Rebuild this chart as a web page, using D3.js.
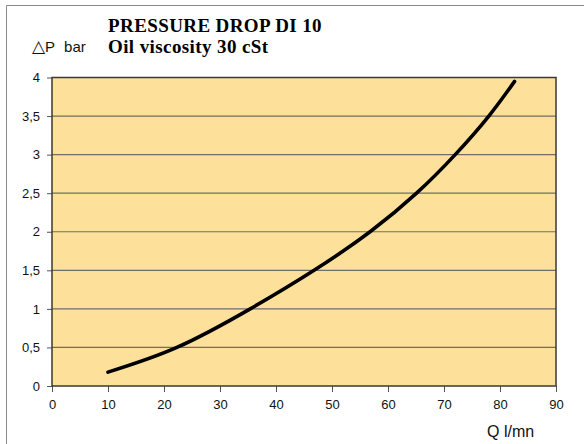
<!DOCTYPE html>
<html>
<head>
<meta charset="utf-8">
<script src="https://cdn.jsdelivr.net/npm/d3@7"></script>
<style>
  html, body { margin: 0; padding: 0; background: #fff; }
  svg { display: block; }
</style>
</head>
<body>
<svg id="chart" width="584" height="444"></svg>
<script>
// Flow rate (l/min) and matching pressure drop (bar) along the DI 10 curve
const flow = [10, 22.3, 35.4, 46.8, 56.8, 65.1, 72, 78, 82.6];
const pressureDrop = [0.18, 0.5, 1, 1.5, 2, 2.5, 3, 3.5, 3.95];

const xTicks = [0, 10, 20, 30, 40, 50, 60, 70, 80, 90];
const yTicks = [0, 0.5, 1, 1.5, 2, 2.5, 3, 3.5, 4];

const title = "PRESSURE DROP DI 10";
const subtitle = "Oil viscosity 30 cSt";
const yTitleSymbol = "\u25B3";
const yTitleVar = "P";
const yTitleUnit = "bar";
const xTitle = "Q l/mn";

const svg = d3.select("#chart");
const plot = { left: 52, top: 77.5, right: 556, bottom: 386 };

const x = d3.scaleLinear().domain([0, 90]).range([plot.left, plot.right]);
const y = d3.scaleLinear().domain([0, 4]).range([plot.bottom, plot.top]);

// outer frame (left and top edges)
svg.append("path")
  .attr("d", "M6.5,444V5.5H584")
  .attr("fill", "none")
  .attr("stroke", "#8a8a8a")
  .attr("stroke-width", 1);

// plot background
svg.append("rect")
  .attr("x", plot.left).attr("y", plot.top)
  .attr("width", plot.right - plot.left)
  .attr("height", plot.bottom - plot.top)
  .attr("fill", "#fde19b");

// horizontal gridlines
svg.append("g")
  .selectAll("line")
  .data(yTicks.filter(d => d > 0 && d < 4))
  .join("line")
  .attr("x1", plot.left).attr("x2", plot.right)
  .attr("y1", d => y(d)).attr("y2", d => y(d))
  .attr("stroke", "#6f6e66")
  .attr("stroke-width", 1.2);

const fmt = d => String(d).replace(".", ",");

// y axis
const yAxis = svg.append("g")
  .attr("transform", `translate(${plot.left},0)`)
  .call(d3.axisLeft(y).tickValues(yTicks).tickFormat(fmt).tickSize(5).tickPadding(7));
yAxis.select(".domain").remove();
yAxis.selectAll(".tick line").attr("stroke", "#555");
yAxis.selectAll("text")
  .attr("font-family", "'Liberation Sans', Arial, sans-serif")
  .attr("font-size", 13)
  .attr("fill", "#111");

// x axis
const xAxis = svg.append("g")
  .attr("transform", `translate(0,${plot.bottom})`)
  .call(d3.axisBottom(x).tickValues(xTicks).tickFormat(d => d).tickSize(6).tickPadding(8));
xAxis.select(".domain").remove();
xAxis.selectAll(".tick line").attr("stroke", "#555");
xAxis.selectAll("text")
  .attr("font-family", "'Liberation Sans', Arial, sans-serif")
  .attr("font-size", 13)
  .attr("fill", "#111");

// plot border
svg.append("rect")
  .attr("x", plot.left).attr("y", plot.top)
  .attr("width", plot.right - plot.left)
  .attr("height", plot.bottom - plot.top)
  .attr("fill", "none")
  .attr("stroke", "#3a3a30")
  .attr("stroke-width", 1.5);

// pressure drop curve
const line = d3.line()
  .x((d, i) => x(flow[i]))
  .y(d => y(d))
  .curve(d3.curveNatural);

svg.append("path")
  .datum(pressureDrop)
  .attr("d", line)
  .attr("fill", "none")
  .attr("stroke", "#000")
  .attr("stroke-width", 3.6)
  .attr("stroke-linecap", "round");

// titles
svg.append("text")
  .attr("x", 108).attr("y", 31.5)
  .attr("font-family", "'Liberation Serif', 'Times New Roman', serif")
  .attr("font-weight", "bold")
  .attr("font-size", 19)
  .attr("letter-spacing", 0.4)
  .attr("fill", "#000")
  .text(title);

svg.append("text")
  .attr("x", 108).attr("y", 52.5)
  .attr("font-family", "'Liberation Serif', 'Times New Roman', serif")
  .attr("font-weight", "bold")
  .attr("font-size", 19)
  .attr("letter-spacing", 0.4)
  .attr("fill", "#000")
  .text(subtitle);

// y axis title: delta symbol, variable and unit
const yLab = svg.append("text")
  .attr("x", 32).attr("y", 52)
  .attr("font-family", "'Liberation Sans', Arial, sans-serif")
  .attr("font-size", 15)
  .attr("fill", "#111");
yLab.append("tspan")
  .attr("font-family", "'DejaVu Sans', sans-serif")
  .attr("font-size", 17)
  .text(yTitleSymbol);
yLab.append("tspan").text(yTitleVar);
yLab.append("tspan").attr("dx", 9).text(yTitleUnit);

svg.append("text")
  .attr("x", 487).attr("y", 437)
  .attr("font-family", "'Liberation Sans', Arial, sans-serif")
  .attr("font-size", 16)
  .attr("fill", "#111")
  .text(xTitle);
</script>
</body>
</html>
